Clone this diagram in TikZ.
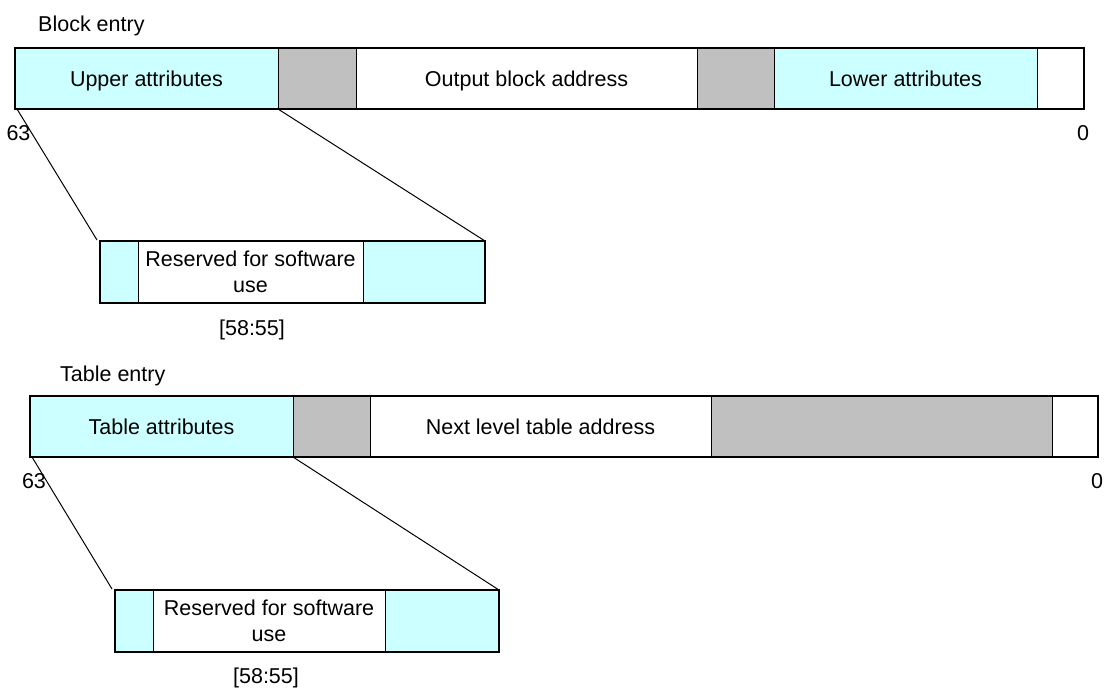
\documentclass[tikz,border=0pt]{standalone}
\usepackage{fontspec}
\setmainfont{Liberation Sans}
\definecolor{cyanfill}{HTML}{CCFFFF}
\definecolor{grayfill}{HTML}{C0C0C0}
\newcommand{\lblfont}{\fontsize{21.5}{26}\selectfont}
\begin{document}
\begin{tikzpicture}[x=1pt,y=-1pt,
  seg/.style={draw=black, line width=1pt, inner sep=0pt, outer sep=0pt, anchor=north west, minimum height=61pt, font=\lblfont, text height=18pt, text depth=2.6pt},
  cy/.style={seg, fill=cyanfill},
  gr/.style={seg, fill=grayfill},
  wh/.style={seg, fill=white},
  multi/.style={align=center, text height=, text depth=},
  frame/.style={draw=black, line width=1.8pt},
  conn/.style={draw=black, line width=1pt},
  lbl/.style={font=\lblfont, inner sep=0pt}]
\useasboundingbox (0,0) rectangle (1112,697);

% ---------- Block entry ----------
\node[lbl, anchor=base west] (btitle) at (38,31) {Block entry};
\node[cy, minimum width=263pt] (bua) at (15,48) {Upper attributes};
\node[gr, minimum width=78pt]  (bg1) at (278,48) {};
\node[wh, minimum width=341pt] (boa) at (356,48) {Output block address};
\node[gr, minimum width=77pt]  (bg2) at (697,48) {};
\node[cy, minimum width=263pt] (bla) at (774,48) {Lower attributes};
\node[wh, minimum width=47pt]  (bw1) at (1037,48) {};
\draw[frame] (bua.north west) rectangle (bw1.south east);
\node[lbl] (b63) at (18.5,133) {63};
\node[lbl] (b0) at (1083,133) {0};

\node[cy, minimum width=38pt, minimum height=62pt]  (bs1) at (100,241) {};
\node[wh, multi, minimum width=225pt, minimum height=62pt] (bs2) at (138,241) {Reserved for software\\use};
\node[cy, minimum width=122pt, minimum height=62pt] (bs3) at (363,241) {};
\draw[frame, line width=1.3pt] (bs1.north west) rectangle (bs3.south east);
\node[lbl] (bbits) at (252,330) {[58:55]};
\draw[conn] (bua.south west) ++(2,0) coordinate (bl0) -- ([xshift=-3pt,yshift=1pt]bs1.north west);
\draw[conn] (bua.south east) -- (bs3.north east);

% ---------- Table entry ----------
\node[lbl, anchor=base west] (ttitle) at (60,381) {Table entry};
\node[cy, minimum width=263pt] (tta) at (30,396) {Table attributes};
\node[gr, minimum width=77pt]  (tg1) at (293,396) {};
\node[wh, minimum width=341pt] (tna) at (370,396) {Next level table address};
\node[gr, minimum width=341pt] (tg2) at (711,396) {};
\node[wh, minimum width=46pt]  (tw1) at (1052,396) {};
\draw[frame] (tta.north west) rectangle (tw1.south east);
\node[lbl] (t63) at (34,481) {63};
\node[lbl] (t0) at (1097,481) {0};

\node[cy, minimum width=38pt, minimum height=62pt]  (ts1) at (115,590) {};
\node[wh, multi, minimum width=232pt, minimum height=62pt] (ts2) at (153,590) {Reserved for software\\use};
\node[cy, minimum width=114pt, minimum height=62pt] (ts3) at (385,590) {};
\draw[frame, line width=1.3pt] (ts1.north west) rectangle (ts3.south east);
\node[lbl] (tbits) at (266,678) {[58:55]};
\draw[conn] (tta.south west) ++(2,0) coordinate (tl0) -- ([xshift=-3pt,yshift=1pt]ts1.north west);
\draw[conn] (tta.south east) -- (ts3.north east);
\end{tikzpicture}
\end{document}
